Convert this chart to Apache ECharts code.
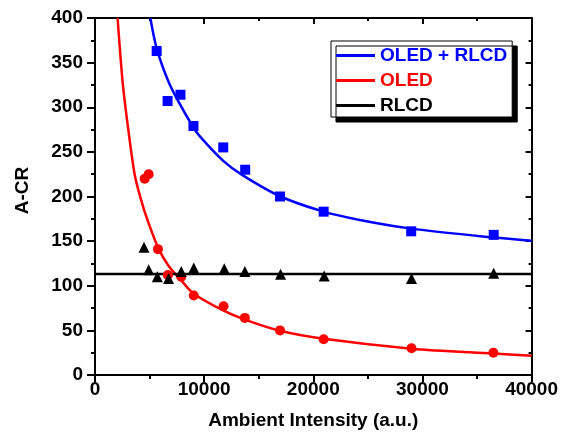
<!DOCTYPE html>
<html><head><meta charset="utf-8">
<script src="https://cdn.jsdelivr.net/npm/echarts@6/dist/echarts.min.js"></script>
<style>html,body{margin:0;padding:0;background:#fff}#c{width:561px;height:439px}</style>
</head><body><div id="c"></div>
<script>
// Tick values and labels
const xTicks = [0, 10000, 20000, 30000, 40000];
const xTickLabels = ['0', '10000', '20000', '30000', '40000'];
const yTicks = [0, 50, 100, 150, 200, 250, 300, 350, 400];
const yTickLabels = ['0', '50', '100', '150', '200', '250', '300', '350', '400'];

// Legend / series names
const seriesNames = ['OLED + RLCD', 'OLED', 'RLCD'];

// Measured points [ambient intensity, A-CR]
const bothPoints = [[5650,363],[6650,307],[7830,314],[9020,279],[11750,255],[13760,230],[16950,200],[20950,183],[28970,161],[36530,157]];
const oledPoints = [[4555,220],[4920,225],[5770,141],[6680,112],[7900,110],[9050,89],[11780,77],[13730,64],[16950,50],[20950,40],[29000,30],[36500,25]];
const rlcdPoints = [[4490,143],[4920,118],[5710,110],[6740,108],[7900,116],[9050,120],[11840,119],[13730,116],[17000,113],[21000,111],[29000,108],[36530,114]];

// Fitted curves
const bothCurve = [[5070,400],[5650,366],[6650,331],[7440,311],[8930,279],[9570,268],[11750,240],[13510,224],[17000,200],[20950,183],[24140,174],[28970,164],[36530,154],[40000,150.5]];
const oledCurve = [[2070,400],[2550,326],[3125,268],[3644,224],[4200,197],[4855,172],[5770,143],[6700,123],[7900,106],[9050,91],[11780,72],[13730,62],[16950,49.5],[20950,40.5],[29000,29.5],[36500,24],[40000,21.6]];
const rlcdCurve = [[0,113.2],[40000,113.2]];

const FONT = 'Liberation Sans';
const txt = {fontFamily: FONT, fontWeight: 'bold', fontSize: 19, color: '#000'};
const legTxt = c => Object.assign({}, txt, {color: c, lineHeight: 21});

const chart = echarts.init(document.getElementById('c'), null, {renderer: 'canvas'});
chart.setOption({
  animation: false,
  backgroundColor: '#fff',
  grid: {left: 95, right: 27, top: 18, bottom: 64, containLabel: false},
  legend: {
    orient: 'vertical', left: 331, top: 41,
    padding: [4, 5, 1, 5],
    icon: 'rect',
    itemWidth: 39, itemHeight: 3, itemGap: 4,
    backgroundColor: '#fff', borderColor: '#000', borderWidth: 1,
    shadowColor: '#000', shadowOffsetX: 5, shadowOffsetY: 5, shadowBlur: 0,
    data: [
      {name: seriesNames[0], textStyle: legTxt('#0000ff'), itemStyle: {color: '#0000ff'}},
      {name: seriesNames[1], textStyle: legTxt('#ff0000'), itemStyle: {color: '#ff0000'}},
      {name: seriesNames[2], textStyle: legTxt('#000'), itemStyle: {color: '#000'}}
    ]
  },
  xAxis: [{
    type: 'value', min: xTicks[0], max: xTicks[xTicks.length - 1], interval: 10000,
    position: 'bottom',
    name: 'Ambient Intensity (a.u.)', nameLocation: 'middle', nameGap: 36,
    nameTextStyle: txt,
    axisLine: {show: true, onZero: false, lineStyle: {color: '#000', width: 2}},
    axisTick: {show: true, inside: false, length: 7, lineStyle: {color: '#000', width: 2}},
    minorTick: {show: true, splitNumber: 2, length: 4, lineStyle: {color: '#000', width: 2}},
    axisLabel: Object.assign({}, txt, {margin: 5, formatter: v => xTickLabels[xTicks.indexOf(v)] ?? ''}),
    splitLine: {show: false}
  }, {
    type: 'value', min: xTicks[0], max: xTicks[xTicks.length - 1], interval: 10000,
    position: 'top',
    axisLine: {show: true, onZero: false, lineStyle: {color: '#000', width: 2}},
    axisTick: {show: true, inside: true, length: 6, lineStyle: {color: '#000', width: 2}},
    minorTick: {show: true, splitNumber: 2, length: 3, lineStyle: {color: '#000', width: 2}},
    axisLabel: {show: false}, splitLine: {show: false}
  }],
  yAxis: [{
    type: 'value', min: yTicks[0], max: yTicks[yTicks.length - 1], interval: 50,
    position: 'left',
    name: 'A-CR', nameLocation: 'middle', nameGap: 63,
    nameTextStyle: Object.assign({}, txt, {padding: [0, 0, 0, 12]}),
    axisLine: {show: true, onZero: false, lineStyle: {color: '#000', width: 2}},
    axisTick: {show: true, inside: false, length: 8, lineStyle: {color: '#000', width: 2}},
    minorTick: {show: true, splitNumber: 2, length: 4, lineStyle: {color: '#000', width: 2}},
    axisLabel: Object.assign({}, txt, {margin: 12, formatter: v => yTickLabels[yTicks.indexOf(v)] ?? ''}),
    splitLine: {show: false}
  }, {
    type: 'value', min: yTicks[0], max: yTicks[yTicks.length - 1], interval: 50,
    position: 'right',
    axisLine: {show: true, onZero: false, lineStyle: {color: '#000', width: 2}},
    axisTick: {show: true, inside: true, length: 6, lineStyle: {color: '#000', width: 2}},
    minorTick: {show: true, splitNumber: 2, length: 3, lineStyle: {color: '#000', width: 2}},
    axisLabel: {show: false}, splitLine: {show: false}
  }],
  series: [
    {name: seriesNames[0], type: 'line', data: bothCurve, smooth: 0.3, symbol: 'none', clip: true,
     lineStyle: {color: '#0000ff', width: 2.5}, itemStyle: {color: '#0000ff'}, z: 2},
    {name: seriesNames[1], type: 'line', data: oledCurve, smooth: 0.3, symbol: 'none', clip: true,
     lineStyle: {color: '#ff0000', width: 2.5}, itemStyle: {color: '#ff0000'}, z: 2},
    {name: seriesNames[2], type: 'line', data: rlcdCurve, symbol: 'none', clip: true,
     lineStyle: {color: '#000', width: 2.5}, itemStyle: {color: '#000'}, z: 2},
    {name: 'pts-both', type: 'scatter', data: bothPoints, symbol: 'rect', symbolSize: 10,
     itemStyle: {color: '#0000ff', opacity: 1}, z: 3},
    {name: 'pts-oled', type: 'scatter', data: oledPoints, symbol: 'circle', symbolSize: 10,
     itemStyle: {color: '#ff0000', opacity: 1}, z: 3},
    {name: 'pts-rlcd', type: 'scatter', data: rlcdPoints, symbol: 'triangle', symbolSize: 11,
     itemStyle: {color: '#000', opacity: 1}, z: 3}
  ]
});
</script>
</body></html>
